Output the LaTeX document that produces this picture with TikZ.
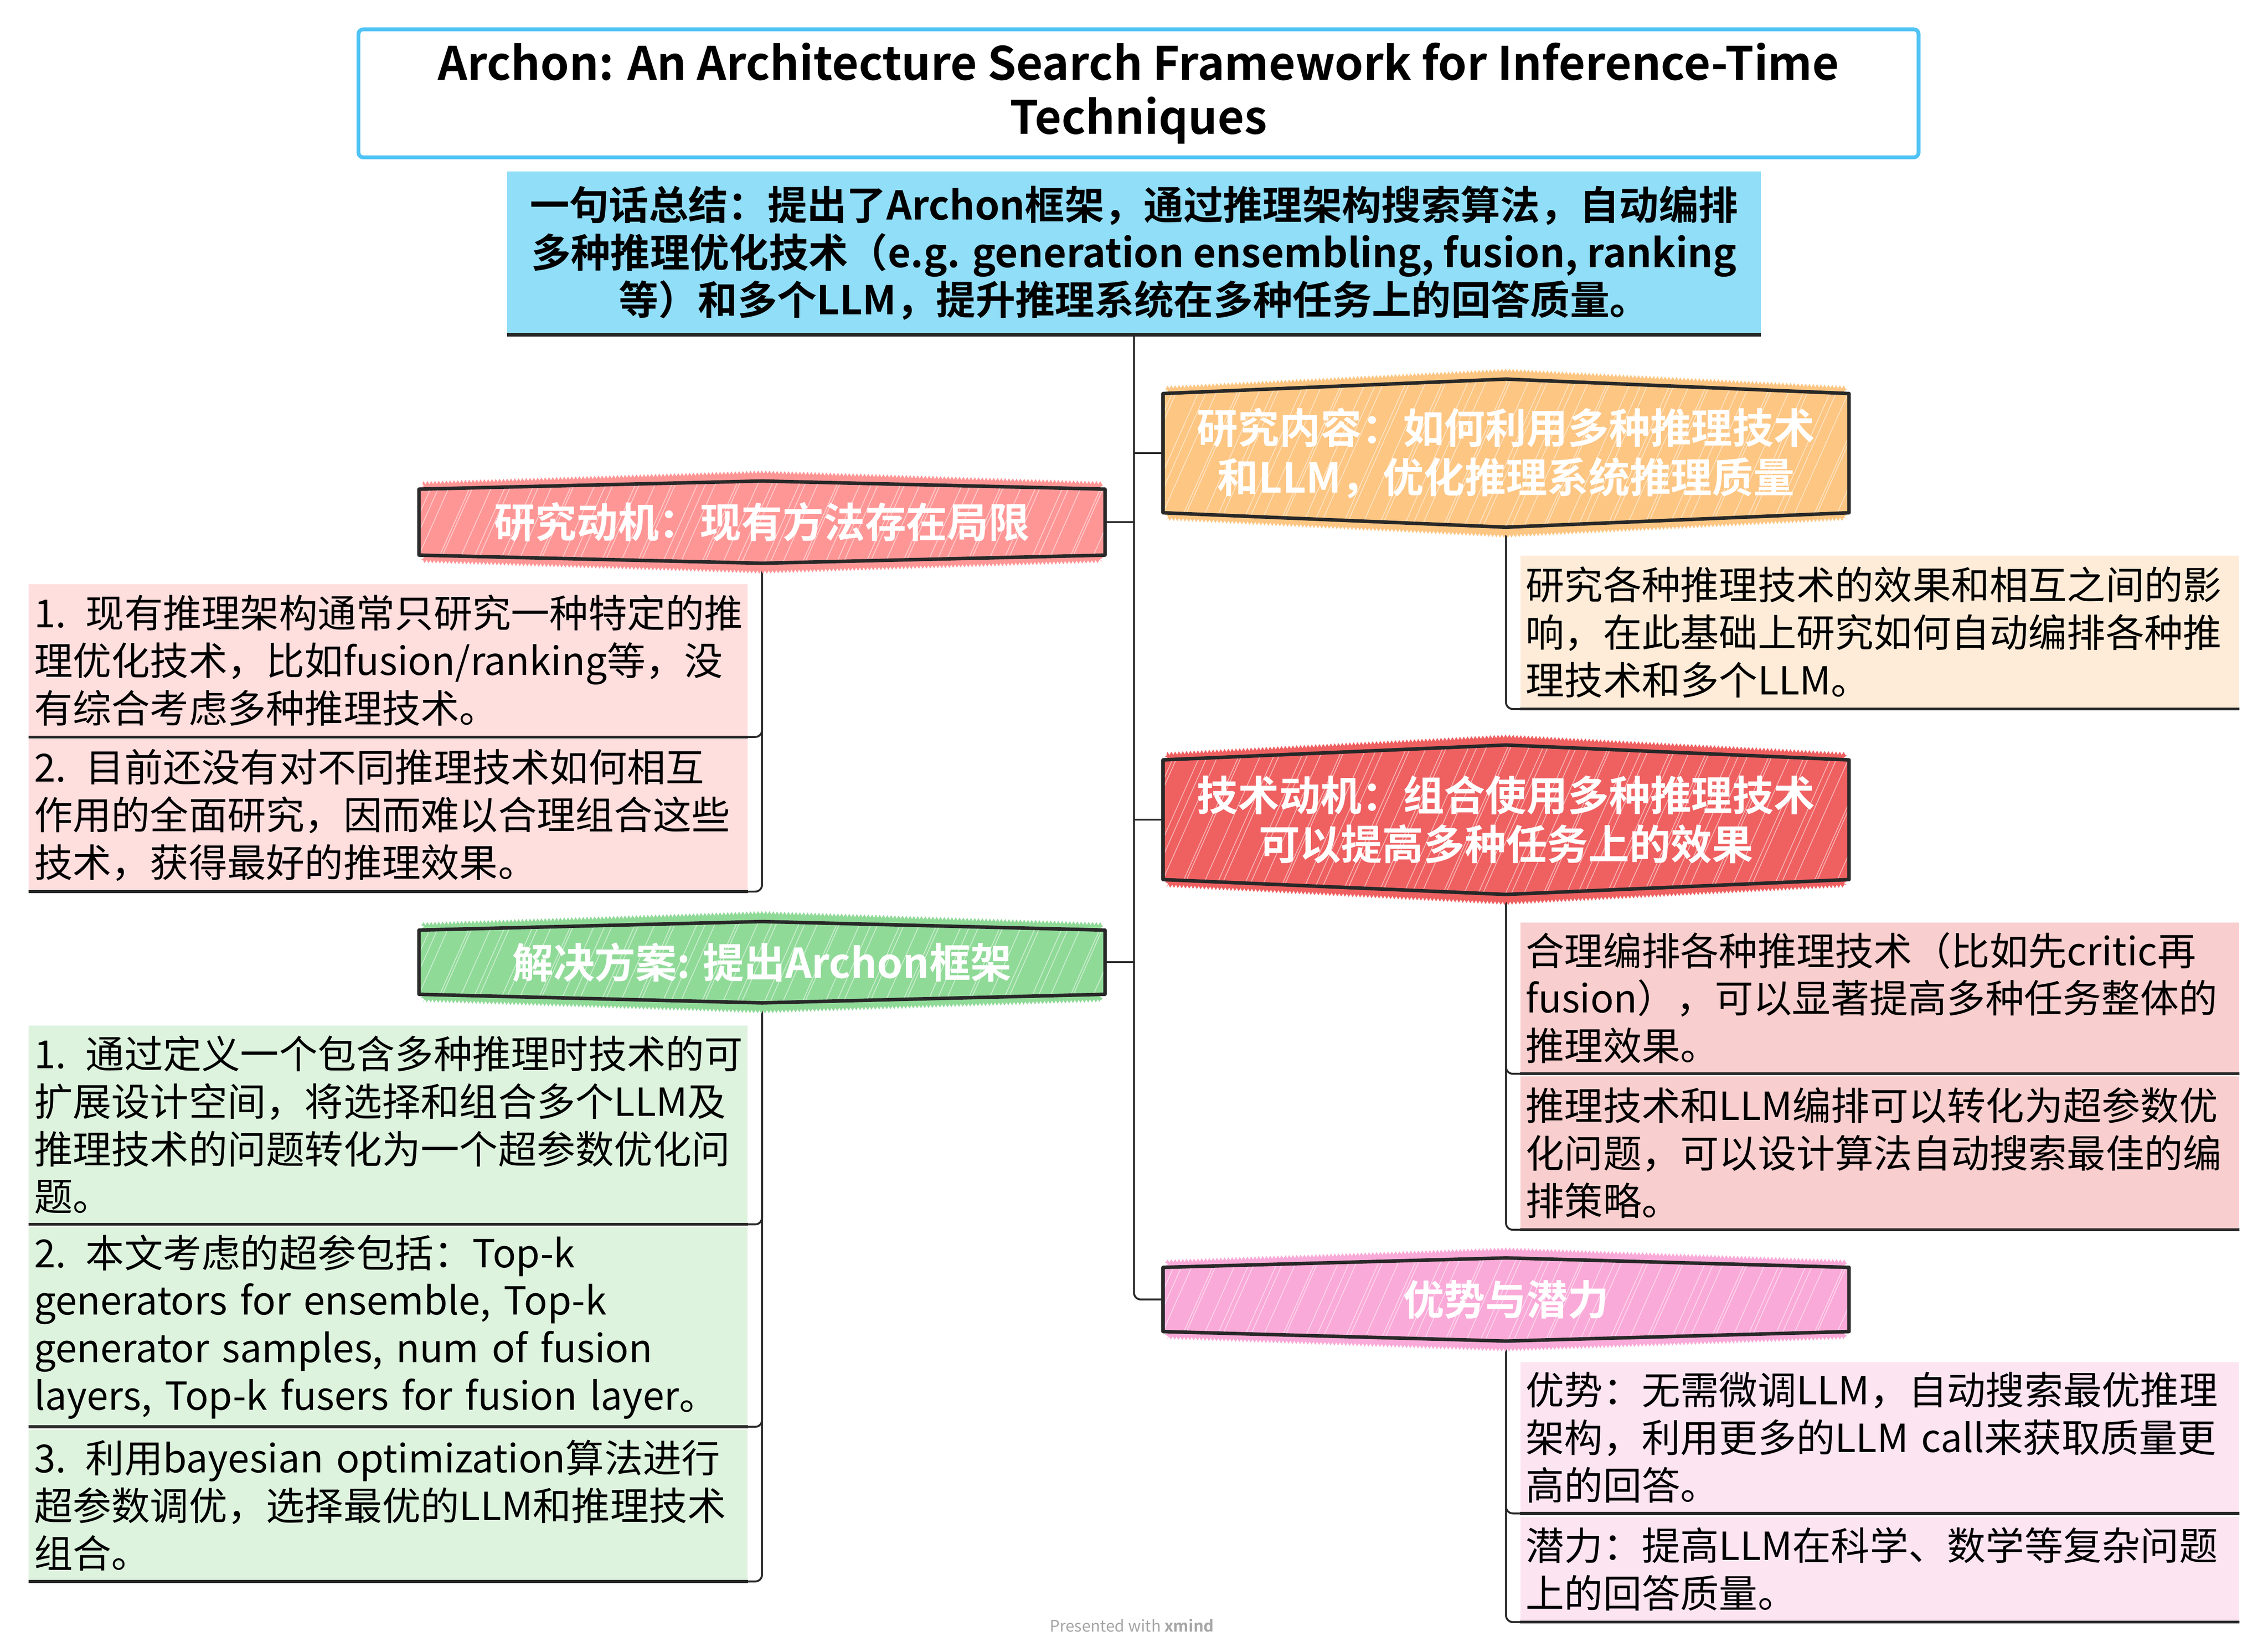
\documentclass[tikz,border=0pt]{standalone}
\usepackage{fontspec}
\setmainfont{Noto Sans CJK SC}[BoldFont={Noto Sans CJK SC Bold}]
\usepackage{xcolor}
\usetikzlibrary{shapes,positioning,calc,backgrounds,decorations.pathmorphing}

\definecolor{titleblue}{RGB}{80,195,245}
\definecolor{sumblue}{RGB}{145,222,248}
\definecolor{motred}{RGB}{255,150,150}
\definecolor{motleaf}{RGB}{255,222,222}
\definecolor{solgreen}{RGB}{144,218,152}
\definecolor{solleaf}{RGB}{221,243,222}
\definecolor{conorange}{RGB}{253,198,131}
\definecolor{conleaf}{RGB}{255,236,216}
\definecolor{techred}{RGB}{239,96,97}
\definecolor{techleaf}{RGB}{249,206,206}
\definecolor{advpink}{RGB}{250,170,216}
\definecolor{advleaf}{RGB}{253,228,241}
\definecolor{inkgray}{RGB}{40,40,40}

% outline of a branch box: node, peak
\newcommand{\hexpath}[2]{(#1.north west) -- ($(#1.north)+(0,#2)$) -- (#1.north east) -- (#1.south east) -- ($(#1.south)+(0,-#2)$) -- (#1.south west) -- cycle}

% sketchy branch box: node, colour, peak
\newcommand{\branchhex}[3]{%
  \fill[#2, decorate, decoration={zigzag, amplitude=1pt, segment length=2.4pt}]
    ($(#1.north west)+(0.08,0.14)$) -- ($(#1.north)+(0,#3+0.2)$) -- ($(#1.north east)+(-0.08,0.14)$)
    -- ($(#1.south east)+(-0.08,-0.14)$) -- ($(#1.south)+(0,-#3-0.2)$) -- ($(#1.south west)+(0.08,-0.14)$) -- cycle;
  \fill[#2] \hexpath{#1}{#3};
  \begin{scope}
    \clip \hexpath{#1}{#3};
    \foreach \k in {0,...,62}
      \draw[white, opacity=0.55, line width=0.5pt] ($(#1.south west)+({\k*0.28-1.6+0.12*sin(\k*137)},-0.6)$) -- ++(1.6,3.6);
  \end{scope}
  \draw[inkgray, line width=2.2pt, line join=round] \hexpath{#1}{#3};
}

\begin{document}
\begin{tikzpicture}[
    hexnode/.style={text=white, font=\bfseries\fontsize{26}{31}\selectfont, align=center, inner sep=0pt, minimum width=15.2cm},
    leaf/.style={fill=#1, anchor=north west, text width=15.7cm, inner xsep=0.12cm, inner ysep=0pt, align=left, font=\fontsize{24.4}{30}\selectfont},
    conn/.style={inkgray, line width=1.2pt, rounded corners=0.15cm},
    leafline/.style={inkgray, line width=1.8pt}
  ]
  \useasboundingbox (0,0) rectangle (50.30,-36.63);

  % Title and summary
  \node[draw=titleblue, line width=2.4pt, fill=white, rounded corners=3pt, minimum width=34.6cm, minimum height=2.84cm,
        align=center, font=\bfseries\fontsize{29}{34}\selectfont] (title) at (25.25,-2.07)
    {Archon: An Architecture Search Framework for Inference-Time\\Techniques};
  \node[fill=sumblue, minimum width=27.8cm, minimum height=3.62cm, inner sep=0pt, align=center,
        font=\bfseries\fontsize{25}{30}\selectfont] (summ) at (25.15,-5.61)
    {一句话总结：提出了Archon框架，通过推理架构搜索算法，自动编排\\
     多种推理优化技术（e.g. generation ensembling, fusion, ranking\\
     等）和多个LLM，提升推理系统在多种任务上的回答质量。};

  % Branches
  \node[hexnode, minimum height=1.45cm] (rmot) at (16.90,-11.58) {研究动机：现有方法存在局限};
  \node[hexnode, minimum height=1.41cm] (sol) at (16.90,-21.34) {解决方案: 提出Archon框架};
  \node[hexnode, minimum height=2.63cm] (rcon) at (33.40,-10.05) {研究内容：如何利用多种推理技术\\和LLM，优化推理系统推理质量};
  \node[hexnode, minimum height=2.64cm] (tmot) at (33.40,-18.18) {技术动机：组合使用多种推理技术\\可以提高多种任务上的效果};
  \node[hexnode, minimum height=1.41cm] (adv) at (33.40,-28.82) {优势与潜力};

  % Leaves, left
  \node[leaf=motleaf, minimum height=3.38cm] (rm1) at (0.63,-12.95)
    {1. 现有推理架构通常只研究一种特定的推\\理优化技术，比如fusion/ranking等，没\\有综合考虑多种推理技术。};
  \node[leaf=motleaf, minimum height=3.38cm] (rm2) at (0.63,-16.38)
    {2. 目前还没有对不同推理技术如何相互\\作用的全面研究，因而难以合理组合这些\\技术，获得最好的推理效果。};
  \node[leaf=solleaf, minimum height=4.40cm] (so1) at (0.63,-22.74)
    {1. 通过定义一个包含多种推理时技术的可\\扩展设计空间，将选择和组合多个LLM及\\推理技术的问题转化为一个超参数优化问\\题。};
  \node[leaf=solleaf, minimum height=4.42cm] (so2) at (0.63,-27.21)
    {2. 本文考虑的超参包括：Top-k\\generators for ensemble, Top-k\\generator samples, num of fusion\\layers, Top-k fusers for fusion layer。};
  \node[leaf=solleaf, minimum height=3.36cm] (so3) at (0.63,-31.70)
    {3. 利用bayesian optimization算法进行\\超参数调优，选择最优的LLM和推理技术\\组合。};

  % Leaves, right
  \node[leaf=conleaf, minimum height=3.39cm] (rc1) at (33.71,-12.32)
    {研究各种推理技术的效果和相互之间的影\\响，在此基础上研究如何自动编排各种推\\理技术和多个LLM。};
  \node[leaf=techleaf, minimum height=3.35cm] (tm1) at (33.71,-20.45)
    {合理编排各种推理技术（比如先critic再\\fusion），可以显著提高多种任务整体的\\推理效果。};
  \node[leaf=techleaf, minimum height=3.39cm] (tm2) at (33.71,-23.87)
    {推理技术和LLM编排可以转化为超参数优\\化问题，可以设计算法自动搜索最佳的编\\排策略。};
  \node[leaf=advleaf, minimum height=3.35cm] (ad1) at (33.71,-30.20)
    {优势：无需微调LLM，自动搜索最优推理\\架构，利用更多的LLM call来获取质量更\\高的回答。};
  \node[leaf=advleaf, minimum height=2.33cm] (ad2) at (33.71,-33.63)
    {潜力：提高LLM在科学、数学等复杂问题\\上的回答质量。};

  \node[text=black!35, font=\fontsize{10}{12}\selectfont] (foot) at (25.10,-36.05) {Presented with \textbf{xmind}};

  \begin{scope}[on background layer]
    % connectors
    \draw[conn] (summ.south) |- (adv.west);
    \draw[conn] (rmot.east) -- (rmot.east -| summ.south);
    \draw[conn] (sol.east) -- (sol.east -| summ.south);
    \draw[conn] (rcon.west) -- (rcon.west -| summ.south);
    \draw[conn] (tmot.west) -- (tmot.west -| summ.south);
    \draw[conn] (rmot.south) |- (rm1.south east);
    \draw[conn] (rmot.south) |- (rm2.south east);
    \draw[conn] (sol.south) |- (so1.south east);
    \draw[conn] (sol.south) |- (so2.south east);
    \draw[conn] (sol.south) |- (so3.south east);
    \draw[conn] (rcon.south) |- (rc1.south west);
    \draw[conn] (tmot.south) |- (tm1.south west);
    \draw[conn] (tmot.south) |- (tm2.south west);
    \draw[conn] (adv.south) |- (ad1.south west);
    \draw[conn] (adv.south) |- (ad2.south west);
    % branch boxes
    \branchhex{rmot}{motred}{0.18}
    \branchhex{sol}{solgreen}{0.19}
    \branchhex{rcon}{conorange}{0.32}
    \branchhex{tmot}{techred}{0.33}
    \branchhex{adv}{advpink}{0.21}
  \end{scope}

  % underlines
  \draw[leafline, line width=2.2pt] (summ.south west) -- (summ.south east);
  \foreach \n in {rm1,rm2,so1,so2,so3,rc1,tm1,tm2,ad1,ad2}
    \draw[leafline] (\n.south west) -- (\n.south east);
\end{tikzpicture}
\end{document}
